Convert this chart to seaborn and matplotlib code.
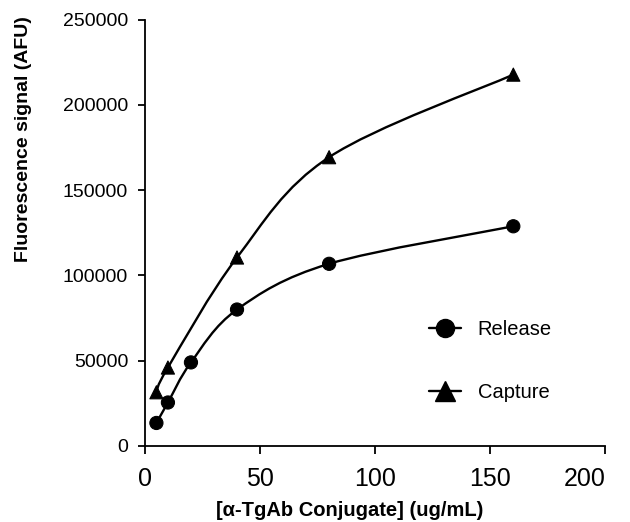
import numpy as np
import pandas as pd
import matplotlib
matplotlib.use("Agg")
import matplotlib.pyplot as plt
import seaborn as sns
from matplotlib.path import Path
from matplotlib.patches import PathPatch
from matplotlib.lines import Line2D

# ---- data ----
release_x = [5, 10, 20, 40, 80, 160]
release_y = [13500, 25500, 49000, 80000, 106800, 128800]
capture_x = [5, 10, 40, 80, 160]
capture_y = [31500, 46000, 110500, 169300, 217700]
series_names = ["Release", "Capture"]
x_ticks = [0, 50, 100, 150, 200]
y_ticks = [0, 50000, 100000, 150000, 200000, 250000]
x_label = "[α-TgAb Conjugate] (ug/mL)"
y_label = "Fluorescence signal (AFU)"

sns.set_theme(style="white")
plt.rcParams["font.family"] = ["Liberation Sans", "DejaVu Sans"]
plt.rcParams["text.color"] = "black"
plt.rcParams["axes.labelcolor"] = "black"
plt.rcParams["xtick.color"] = "black"
plt.rcParams["ytick.color"] = "black"

df = pd.concat([
    pd.DataFrame({"x": release_x, "y": release_y, "series": series_names[0]}),
    pd.DataFrame({"x": capture_x, "y": capture_y, "series": series_names[1]}),
], ignore_index=True)

fig = plt.figure(figsize=(6.3, 5.22), dpi=100)
ax = fig.add_axes([0.230, 0.1456, 0.731, 0.817])


def smooth_path(xs, ys):
    P = np.column_stack([xs, ys]).astype(float)
    n = len(P)
    verts = [P[0]]
    codes = [Path.MOVETO]
    for i in range(n - 1):
        p0 = P[i - 1] if i > 0 else P[i]
        p1 = P[i]
        p2 = P[i + 1]
        p3 = P[i + 2] if i + 2 < n else P[i + 1]
        c1 = p1 + (p2 - p0) / 6.0
        c2 = p2 - (p3 - p1) / 6.0
        verts += [c1, c2, p2]
        codes += [Path.CURVE4] * 3
    return Path(verts, codes)


for xs, ys in [(release_x, release_y), (capture_x, capture_y)]:
    ax.add_patch(PathPatch(smooth_path(xs, ys), facecolor="none",
                           edgecolor="black", lw=1.7, zorder=2))

sns.scatterplot(data=df, x="x", y="y", style="series",
                markers={"Release": "o", "Capture": "^"},
                color="black", edgecolor="black", s=90,
                legend=False, ax=ax, zorder=3)

ax.set_xlim(0, 200)
ax.set_ylim(0, 250000)
ax.set_xticks(x_ticks)
ax.set_yticks(y_ticks)
xtl = ax.set_xticklabels([str(t) for t in x_ticks], fontsize=18, color="black")
xtl[-1].set_horizontalalignment("right")
ax.set_yticklabels([str(t) for t in y_ticks], fontsize=14, color="black")
ax.set_xlabel(x_label, fontsize=14.5, fontweight="bold", color="black")
ax.set_ylabel(y_label, fontsize=14, fontweight="bold", color="black")
ax.xaxis.set_label_coords(0.444, -0.128)
ax.yaxis.set_label_coords(-0.245, 0.719)

for side in ["top", "right"]:
    ax.spines[side].set_visible(False)
for side in ["left", "bottom"]:
    ax.spines[side].set_color("black")
    ax.spines[side].set_linewidth(1.3)
ax.tick_params(axis="both", which="major", direction="out", length=6,
               width=1.3, color="black", left=True, bottom=True)
ax.tick_params(axis="x", pad=9)
ax.tick_params(axis="y", pad=7, length=5)
ax.grid(False)

handles = [
    Line2D([], [], color="black", lw=1.7, marker="o", markersize=13),
    Line2D([], [], color="black", lw=1.7, marker="^", markersize=14),
]
ax.legend(handles, series_names, loc="upper left", bbox_to_anchor=(0.6, 0.314),
          frameon=False, fontsize=14.5, handlelength=1.6, handletextpad=0.8,
          labelspacing=2.2, borderaxespad=0, labelcolor="black")

fig.savefig("out.png", dpi=100)
